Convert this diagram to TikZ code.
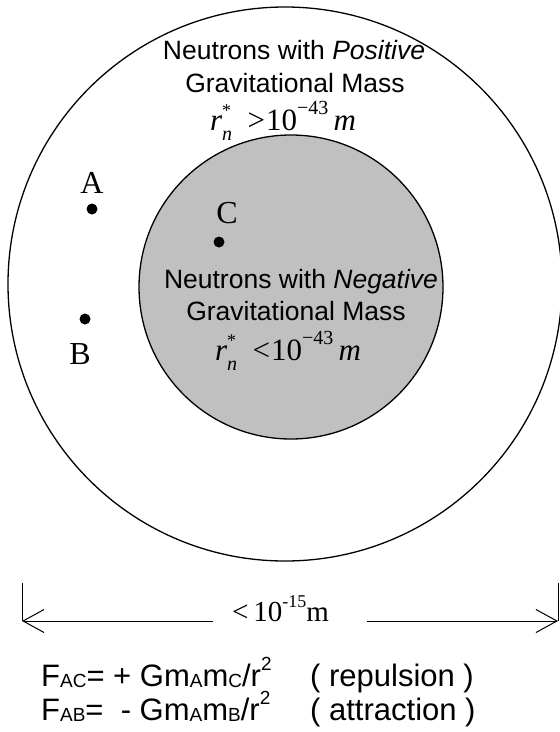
\documentclass[tikz,border=0pt]{standalone}
\usepackage{fontspec}
\setmainfont{Liberation Serif}
\newfontfamily\arial{Liberation Sans}
\usetikzlibrary{arrows.meta}
\definecolor{coregray}{RGB}{192,192,192}
\newcommand\fs[1]{\fontsize{#1}{#1}\selectfont}
\newcommand\rstar{\textit{r}\rlap{\raisebox{0.45em}{\fs{18}*}}\raisebox{-0.33em}{\fs{20}\textit{n}}}
\newcommand\sbs[1]{\raisebox{-0.05em}{\fs{19}#1}}
\newcommand\sps[1]{\raisebox{0.5em}{\fs{19}#1}}
\newcommand\fsps[1]{\raisebox{0.5em}{\fs{20}#1}}
\tikzset{
  sanstext/.style={font=\arial\fs{26.5}, inner sep=0pt},
  formtext/.style={font=\fs{31}, inner sep=0pt},
  lettertext/.style={font=\fs{32}, inner sep=0pt},
  eqtext/.style={font=\arial\fs{31}, inner sep=0pt, anchor=base west},
  pointdot/.style={circle, fill=black, inner sep=0pt, minimum size=11pt},
  dimline/.style={line width=1pt, -{Straight Barb[length=21pt,width=23pt,line width=1pt]}},
}
\begin{document}
\begin{tikzpicture}[x=1pt,y=-1pt]
\useasboundingbox (0,0) rectangle (560,732);
% circles
\draw[line width=1.3pt] (285,284) circle[radius=277];
\draw[line width=1.3pt, fill=coregray] (291,287) circle[radius=152];
% outer text
\node[sanstext, anchor=base] (pos1) at (294,59) {Neutrons with \textit{Positive}};
\node[sanstext, anchor=base] (pos2) at (295,92) {Gravitational Mass};
\node[formtext, anchor=base] (pos3) at (283,130) {\rstar\ \ >\kern1pt10\fsps{−43}\,\textit{m}};
% inner text
\node[sanstext, anchor=base] (neg1) at (301,288) {Neutrons with \textit{Negative}};
\node[sanstext, anchor=base] (neg2) at (296,320) {Gravitational Mass};
\node[formtext, anchor=base] (neg3) at (288,360) {\rstar\ \ <\kern1pt10\fsps{−43}\,\textit{m}};
% points
\node[pointdot] (A) at (92,209) {};
\node[pointdot] (B) at (85,319) {};
\node[pointdot] (C) at (219,242) {};
\node[lettertext, anchor=base] (Alab) at (92,193) {A};
\node[lettertext, anchor=base] (Blab) at (80,364) {B};
\node[lettertext, anchor=base] (Clab) at (227,223) {C};
% dimension
\coordinate (tl1) at (22,583);
\coordinate (tl2) at (22,621);
\coordinate (tr1) at (558,583);
\coordinate (tr2) at (558,621);
\draw[line width=1pt] (tl1) -- (tl2);
\draw[line width=1pt] (tr1) -- (tr2);
\node[formtext, anchor=base west, font=\fs{29}] (dim) at (232,621) {<\,10\raisebox{0.48em}{\fs{18}-15}m};
\coordinate (gl) at (213,621);
\coordinate (gr) at (367,621);
\draw[dimline] (gl) -- (tl2);
\draw[dimline] (gr) -- (tr2);
% equations
\node[eqtext] (eq1) at (41,686) {F\sbs{AC}= + Gm\sbs{A}m\sbs{C}/r\sps{2}};
\node[eqtext] (eq1b) at (310,686) {( repulsion )};
\node[eqtext] (eq2) at (41,720) {F\sbs{AB}=\ \ - Gm\sbs{A}m\sbs{B}/r\sps{2}};
\node[eqtext] (eq2b) at (310,720) {( attraction )};
\end{tikzpicture}
\end{document}
